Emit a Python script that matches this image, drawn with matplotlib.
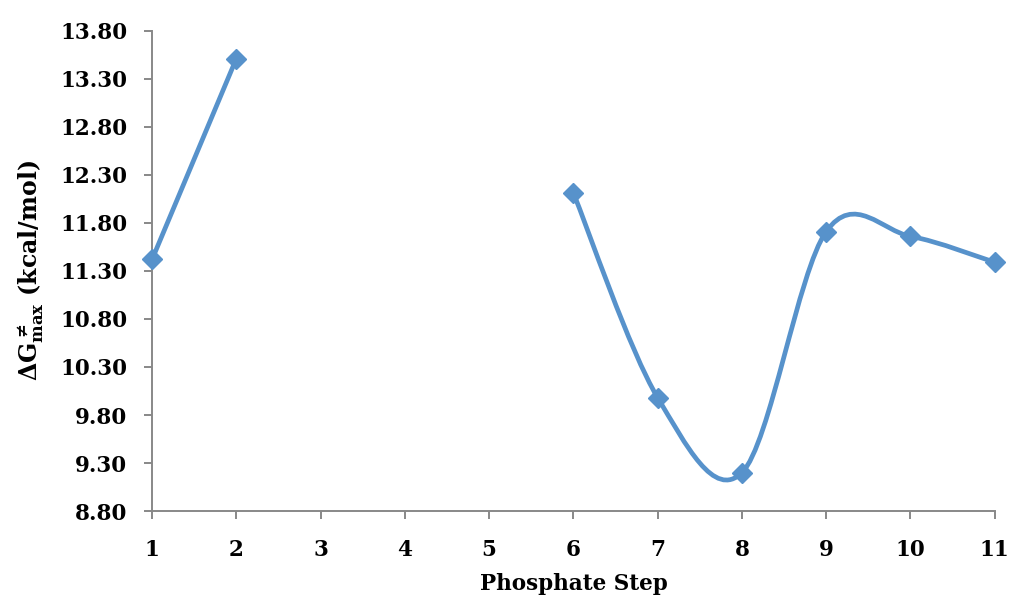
import matplotlib
matplotlib.use("Agg")
import matplotlib.pyplot as plt
from matplotlib.path import Path
from matplotlib.patches import PathPatch

# Phosphate steps and barrier heights (kcal/mol); steps 3-5 have no value
steps_a = [1, 2]
dg_a = [11.42, 13.51]
steps_b = [6, 7, 8, 9, 10, 11]
dg_b = [12.11, 9.98, 9.20, 11.71, 11.66, 11.39]

y_ticks = [8.80, 9.30, 9.80, 10.30, 10.80, 11.30, 11.80, 12.30, 12.80, 13.30, 13.80]
x_ticks = list(range(1, 12))

COLOR = "#5792CB"
AXIS = "#888888"

plt.rcParams["font.family"] = ["DejaVu Serif"]
plt.rcParams["font.weight"] = "bold"
plt.rcParams["mathtext.fontset"] = "custom"
plt.rcParams["mathtext.rm"] = "DejaVu Serif:bold"
plt.rcParams["mathtext.it"] = "DejaVu Serif:bold"
plt.rcParams["mathtext.bf"] = "DejaVu Serif:bold"


def smooth_path(xs, ys):
    """Excel-like smoothed line through the points as cubic Bezier segments."""
    pts = list(zip(xs, ys))
    verts = [pts[0]]
    codes = [Path.MOVETO]
    n = len(pts)
    for i in range(n - 1):
        p0 = pts[max(i - 1, 0)]
        p1 = pts[i]
        p2 = pts[i + 1]
        p3 = pts[min(i + 2, n - 1)]
        c1 = (p1[0] + (p2[0] - p0[0]) / 6.0, p1[1] + (p2[1] - p0[1]) / 6.0)
        c2 = (p2[0] - (p3[0] - p1[0]) / 6.0, p2[1] - (p3[1] - p1[1]) / 6.0)
        verts += [c1, c2, p2]
        codes += [Path.CURVE4] * 3
    return Path(verts, codes)


def main():
    fig = plt.figure(figsize=(10.14, 6.02), dpi=100)
    ax = fig.add_axes([0.15, 0.151, 0.831, 0.798])

    for xs, ys in [(steps_a, dg_a), (steps_b, dg_b)]:
        ax.add_patch(PathPatch(smooth_path(xs, ys), facecolor="none",
                               edgecolor=COLOR, lw=3.4, capstyle="round",
                               joinstyle="round", zorder=2))
        ax.plot(xs, ys, ls="none", marker="D", ms=10.5, color=COLOR, zorder=3,
                clip_on=False)

    ax.set_xlim(1, 11)
    ax.set_ylim(8.80, 13.80)
    ax.set_xticks(x_ticks)
    ax.set_yticks(y_ticks)
    ax.set_yticklabels(["%.2f" % v for v in y_ticks])

    for side in ["top", "right"]:
        ax.spines[side].set_visible(False)
    for side in ["left", "bottom"]:
        ax.spines[side].set_color(AXIS)
        ax.spines[side].set_linewidth(1.4)
    ax.tick_params(axis="both", direction="out", length=6, width=1.4,
                   color=AXIS, labelsize=15.5)
    ax.tick_params(axis="x", pad=14)
    ax.tick_params(axis="y", pad=12)

    ax.set_xlabel("Phosphate Step", fontsize=15.5, fontweight="bold", labelpad=9)
    ax.set_ylabel(r"$\Delta G^{\neq}_{\mathrm{max}}$ (kcal/mol)", fontsize=17,
                  fontweight="bold", labelpad=10)

    fig.savefig("out.png", dpi=100)


if __name__ == "__main__":
    main()
